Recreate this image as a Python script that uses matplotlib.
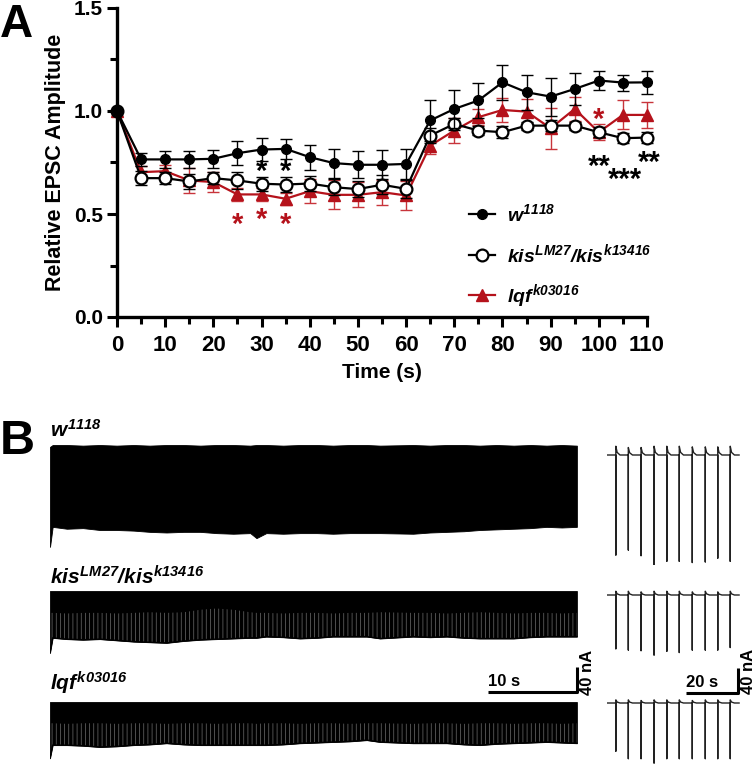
import matplotlib
matplotlib.use("Agg")
import matplotlib.pyplot as plt
from matplotlib.transforms import offset_copy

plt.rcParams['font.family'] = ['Liberation Sans', 'DejaVu Sans']
plt.rcParams['font.weight'] = 'bold'
plt.rcParams['mathtext.fontset'] = 'custom'
plt.rcParams['mathtext.it'] = 'Liberation Sans:italic:bold'
plt.rcParams['mathtext.rm'] = 'Liberation Sans:italic:bold'
plt.rcParams['mathtext.bf'] = 'Liberation Sans:italic:bold'
plt.rcParams['hatch.linewidth'] = 0.5

# ---------------- Panel A data ----------------
time_s = [0, 5, 10, 15, 20, 25, 30, 35, 40, 45, 50, 55,
          60, 65, 70, 75, 80, 85, 90, 95, 100, 105, 110]

w1118_mean = [1.0, 0.765, 0.765, 0.765, 0.768, 0.795, 0.813, 0.816, 0.776, 0.747, 0.739, 0.739,
              0.743, 0.954, 1.010, 1.051, 1.139, 1.091, 1.070, 1.107, 1.148, 1.138, 1.139]
w1118_sem = [0.0, 0.03, 0.04, 0.043, 0.045, 0.057, 0.057, 0.05, 0.06, 0.07, 0.066, 0.07,
             0.073, 0.10, 0.094, 0.085, 0.085, 0.086, 0.092, 0.078, 0.045, 0.039, 0.057]

kis_mean = [1.0, 0.674, 0.674, 0.658, 0.674, 0.663, 0.647, 0.643, 0.648, 0.630, 0.621, 0.642,
            0.622, 0.881, 0.937, 0.905, 0.897, 0.929, 0.929, 0.929, 0.897, 0.868, 0.871]
kis_sem = [0.0, 0.035, 0.03, 0.035, 0.03, 0.04, 0.035, 0.035, 0.035, 0.04, 0.04, 0.045,
           0.045, 0.035, 0.03, 0.02, 0.03, 0.02, 0.025, 0.02, 0.025, 0.025, 0.025]

lqf_mean = [1.0, 0.703, 0.708, 0.663, 0.655, 0.595, 0.595, 0.574, 0.611, 0.593, 0.593, 0.606,
            0.590, 0.832, 0.905, 0.970, 1.005, 0.997, 0.916, 1.010, 0.897, 0.981, 0.981]
lqf_sem = [0.0, 0.03, 0.03, 0.06, 0.05, 0.03, 0.03, 0.03, 0.06, 0.07, 0.06, 0.06,
           0.07, 0.04, 0.06, 0.04, 0.06, 0.06, 0.10, 0.06, 0.04, 0.07, 0.065]

# significance marks (glyph centre positions)
sig_x = [30, 35, 25, 30, 35, 100, 100, 105.5, 110.5]
sig_y = [0.735, 0.735, 0.477, 0.50, 0.477, 0.986, 0.76, 0.695, 0.776]
sig_text = ['*', '*', '*', '*', '*', '*', '**', '***', '**']
sig_color = ['k', 'k', 'r', 'r', 'r', 'r', 'k', 'k', 'k']

labels = [r'$w^{1118}$', r'$kis^{LM27}/kis^{k13416}$', r'$lqf^{k03016}$']

# ---------------- Panel B data (nA, s) ----------------
trace_t = [0, 0.3, 1.9, 3.7, 5.6, 7.5, 9.4, 11.2, 13.1, 15.0, 16.9, 18.7, 20.6, 22.5,
           23.2, 24.3, 26.2, 28.1, 30.0, 31.8, 33.7, 35.6, 37.1, 40.8, 42.7, 44.6,
           46.5, 48.3, 50.2, 52.1, 54.0, 55.8, 57.5, 59.2]
w1118_low = [-163, -131, -134, -133, -136, -136, -137, -139, -140, -139, -139, -141, -142, -141,
             -149, -141, -142, -141, -141, -142, -141, -141, -141, -142, -140, -139,
             -138, -136, -135, -134, -133, -131, -132, -131]
w1118_top = [-3, 0, 0, -1, 0, -1, 0, -1, 0, 0, -1, 0, 0, -1,
             0, 0, -1, 0, 0, -1, 0, 0, -1, 0, -1, 0,
             0, -1, 0, -1, 0, -1, 0, -1]
kis_low = [-99, -75, -77, -78, -77, -79, -81, -82, -83, -80, -78, -77, -76, -75,
           -75, -73, -74, -76, -75, -73, -73, -73, -76, -73, -74, -73,
           -75, -76, -76, -76, -74, -73, -73, -73]
kis_stripe = [-35, -35, -36, -35, -35, -36, -35, -34, -35, -34, -30, -28, -30, -34,
              -35, -35, -36, -35, -35, -36, -35, -35, -34, -35, -35, -36,
              -35, -34, -35, -36, -35, -35, -36, -35]
lqf_low = [-90, -69, -69, -70, -72, -71, -69, -68, -66, -68, -69, -69, -69, -69,
           -69, -69, -68, -66, -65, -64, -63, -61, -64, -66, -66, -66,
           -68, -69, -67, -66, -65, -64, -65, -66]
lqf_stripe = [-34, -34, -35, -34, -34, -35, -34, -34, -35, -34, -34, -35, -34, -34,
              -35, -34, -34, -35, -34, -34, -35, -34, -34, -35, -34, -34,
              -35, -34, -34, -35, -34, -34, -35, -34]

# recovery insets: 10 stimuli
inset_t = [3.4, 8.2, 13.1, 18.1, 23.0, 27.8, 32.8, 37.8, 42.6, 47.4]
inset_end = 50.8
w1118_rec = [160, 152, 161, 176, 170, 170, 172, 171, 165, 170]
kis_rec = [86, 88, 89, 96, 90, 92, 88, 88, 88, 84]
lqf_rec = [77, 89, 89, 96, 89, 89, 89, 89, 89, 89]
w1118_bump = [14, 12, 12, 14, 14, 14, 13, 13, 13, 14]
kis_bump = [6, 6, 5, 6, 6, 6, 5, 6, 5, 6]
lqf_bump = [5, 5, 4, 5, 5, 5, 4, 5, 5, 5]

red = '#B5121B'
W, H = 755, 764
NA_PER_PX = 1.6

fig = plt.figure(figsize=(7.55, 7.64), dpi=100)


def px_axes(x0, y0, x1, y1):
    return fig.add_axes([x0 / W, 1 - y1 / H, (x1 - x0) / W, (y1 - y0) / H])


# ---------------- Panel A ----------------
ax = px_axes(117, 8, 647, 317)
styles = [
    (w1118_mean, w1118_sem, dict(color='k', marker='o', ms=7, mfc='k', mec='k'), 'k', 4),
    (kis_mean, kis_sem, dict(color='k', marker='o', ms=8.5, mfc='white', mec='k', mew=1.6), 'k', 3),
    (lqf_mean, lqf_sem, dict(color=red, marker='^', ms=8, mfc=red, mec=red), '#C8343B', 2),
]
handles = []
for (m, s, st, ecol, z) in styles:
    ax.errorbar(time_s, m, yerr=s, fmt='none', ecolor=ecol, elinewidth=1.0,
                capsize=4.5, capthick=1.0, zorder=z, clip_on=False)
    h, = ax.plot(time_s, m, lw=1.6, zorder=z + 0.5, clip_on=False, **st)
    handles.append(h)

ax.set_xlim(0, 110)
ax.set_ylim(0, 1.5)
ax.set_xticks(range(0, 111, 10))
ax.set_xticks(range(5, 111, 10), minor=True)
ax.set_yticks([0.0, 0.5, 1.0, 1.5])
ax.set_yticks([0.25, 0.75, 1.25], minor=True)
ax.set_yticklabels(['0.0', '0.5', '1.0', '1.5'])
ax.tick_params(axis='x', labelsize=16, width=2.2, length=7, pad=6)
ax.tick_params(axis='y', labelsize=15, width=2.2, length=7, pad=3)
ax.tick_params(which='minor', width=2.2, length=5)
for sp in ['top', 'right']:
    ax.spines[sp].set_visible(False)
for sp in ['left', 'bottom']:
    ax.spines[sp].set_linewidth(2.4)
ax.set_xlabel('Time (s)', fontsize=15, fontweight='bold', labelpad=5)
ax.set_ylabel('Relative EPSC Amplitude', fontsize=15.5, fontweight='bold', labelpad=6)

shift = offset_copy(ax.transData, fig=fig, x=0, y=-6, units='dots')
for x, y, t, c in zip(sig_x, sig_y, sig_text, sig_color):
    ax.text(x, y, t, color=red if c == 'r' else 'k', fontsize=21, fontweight='bold',
            ha='center', va='center', transform=shift, clip_on=False)

ax.legend(handles, labels, loc='center left', bbox_to_anchor=(0.664, 0.195),
          frameon=False, fontsize=14, handlelength=1.35, handletextpad=0.6,
          labelspacing=0.85, borderpad=0, borderaxespad=0)

fig.text(0 / W, 1 - 3 / H, 'A', fontsize=33, fontweight='bold', ha='left', va='top')

# ---------------- Panel B ----------------
fig.text(0 / W, 1 - 419 / H, 'B', fontsize=35, fontweight='bold', ha='left', va='top')

PX_PER_S = 8.9
traces = [
    (445, w1118_top, w1118_low, None),
    (591, None, kis_low, kis_stripe),
    (702, None, lqf_low, lqf_stripe),
]
trace_axes = []
for base, top, low, stripe in traces:
    tax = px_axes(50, base - 10, 50 + 60 * PX_PER_S, base + 110)
    tax.set_xlim(0, 60)
    tax.set_ylim(-110 * NA_PER_PX, 10 * NA_PER_PX)
    tax.axis('off')
    upper = top if top is not None else [0] * len(trace_t)
    tax.fill_between(trace_t, low, upper, color='k', lw=0.6)
    if stripe is not None:
        tax.fill_between(trace_t, low, stripe, facecolor='none', edgecolor='#6e6e6e',
                         hatch='||||', lw=0)
        tax.plot(trace_t, low, color='k', lw=1.0)
    trace_axes.append(tax)

PX_PER_S_IN = 2.6
ins_data = [(455, w1118_rec, w1118_bump), (595, kis_rec, kis_bump), (703, lqf_rec, lqf_bump)]
inset_axes = []
for base, depths, bumps in ins_data:
    iax = px_axes(607, base - 10, 607 + 52 * PX_PER_S_IN, base + 110)
    iax.set_xlim(0, 52)
    iax.set_ylim(-110 * NA_PER_PX, 10 * NA_PER_PX)
    iax.axis('off')
    xs, ys = [0], [0]
    for ts, d, b in zip(inset_t, depths, bumps):
        xs += [ts, ts, ts, ts + 0.5, ts + 1.6]
        ys += [0, -d, b, b * 0.3, 0]
    xs.append(inset_end)
    ys.append(0)
    iax.plot(xs, ys, color='#222222', lw=1.0)
    inset_axes.append(iax)

# labels over traces
fig.text(50 / W, 1 - 430 / H, labels[0], fontsize=15, ha='left', va='center')
fig.text(50 / W, 1 - 577 / H, labels[1], fontsize=15, ha='left', va='center')
fig.text(50 / W, 1 - 683 / H, labels[2], fontsize=15, ha='left', va='center')

# scale bars
sb_time, sb_current = 10, 40
sx = trace_axes[1]
sb_x1, sb_y0 = 59.2, -161
sx.plot([sb_x1 - sb_time, sb_x1, sb_x1], [sb_y0, sb_y0, sb_y0 + sb_current],
        color='k', lw=2.2, clip_on=False, solid_capstyle='butt')
sx.text(sb_x1 - sb_time, sb_y0 + 4, '10 s', fontsize=12, fontweight='bold',
        ha='left', va='bottom')
sx.text(sb_x1 + 1.2, sb_y0 + 30, '40 nA', fontsize=12, fontweight='bold',
        rotation=90, ha='center', va='center')

ix = inset_axes[1]
ib_time = 20
ib_x1, ib_y0 = 50.4, -156
ix.plot([ib_x1 - ib_time, ib_x1, ib_x1], [ib_y0, ib_y0, ib_y0 + sb_current],
        color='k', lw=2.2, clip_on=False, solid_capstyle='butt')
ix.text(ib_x1 - ib_time, ib_y0 + 4, '20 s', fontsize=12, fontweight='bold',
        ha='left', va='bottom')
ix.text(ib_x1 + 4.2, ib_y0 + 33, '40 nA', fontsize=12, fontweight='bold',
        rotation=90, ha='center', va='center')

fig.savefig('out.png', dpi=100)
